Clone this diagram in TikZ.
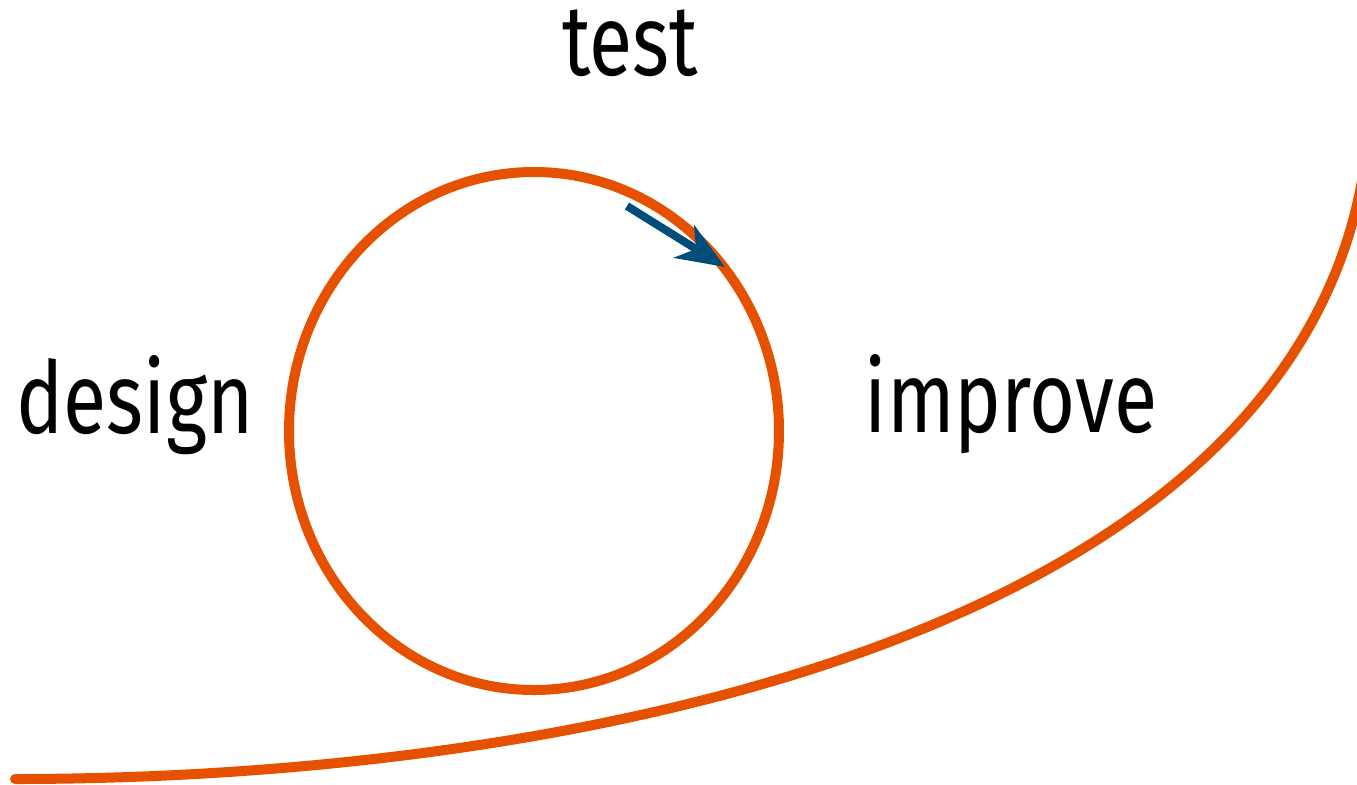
\documentclass[tikz,border=0pt]{standalone}
\usepackage{fontspec}
\setmainfont{Fira Sans}
\usetikzlibrary{arrows.meta}
\definecolor{loop orange}{RGB}{230,81,0}
\definecolor{loop blue}{RGB}{0,77,122}

\begin{document}
\begin{tikzpicture}[x=0.5pt,y=-0.5pt,
  word/.style={anchor=base,inner sep=0pt,xscale=0.79,transform shape,font=\fontsize{50}{56}\selectfont},
  track/.style={draw=loop orange,line width=5pt}]
\clip (0,0) rectangle (1357,784);
\draw[track] (534,431) ellipse [x radius=245, y radius=259];
\coordinate (start) at (15,779);
\coordinate (finish) at (1370,90);
\draw[track,line cap=round] (start) .. controls (600,779) and (1370,620) .. (finish);
\coordinate (tail) at (627,206);
\coordinate (tip) at (725,267);
\draw[draw=loop blue,line width=4pt,-{Stealth[length=24pt,width=19pt,inset=7pt]}] (tail) -- (tip);
\node[word] (design) at (135,433) {design};
\node[word] (test) at (630,75) {test};
\node[word] (improve) at (1011,432) {improve};
\end{tikzpicture}
\end{document}
